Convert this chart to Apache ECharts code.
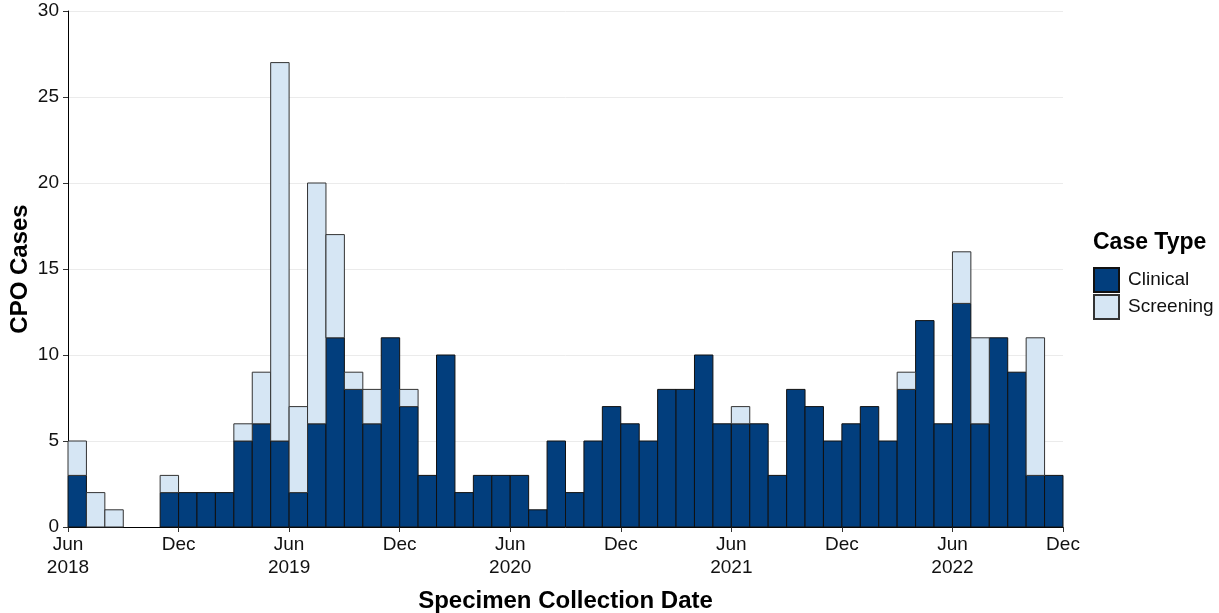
<!DOCTYPE html>
<html>
<head>
<meta charset="utf-8">
<script src="https://cdn.jsdelivr.net/npm/echarts@6/dist/echarts.min.js"></script>
<style>
  html, body { margin: 0; padding: 0; background: #fff; }
  #chart { width: 1219px; height: 613px; }
</style>
</head>
<body>
<div id="chart"></div>
<script>
// months Jun 2018 .. Nov 2022
const months = [
  "2018-06", "2018-07", "2018-08", "2018-09", "2018-10", "2018-11",
  "2018-12", "2019-01", "2019-02", "2019-03", "2019-04", "2019-05",
  "2019-06", "2019-07", "2019-08", "2019-09", "2019-10", "2019-11",
  "2019-12", "2020-01", "2020-02", "2020-03", "2020-04", "2020-05",
  "2020-06", "2020-07", "2020-08", "2020-09", "2020-10", "2020-11",
  "2020-12", "2021-01", "2021-02", "2021-03", "2021-04", "2021-05",
  "2021-06", "2021-07", "2021-08", "2021-09", "2021-10", "2021-11",
  "2021-12", "2022-01", "2022-02", "2022-03", "2022-04", "2022-05",
  "2022-06", "2022-07", "2022-08", "2022-09", "2022-10", "2022-11"
];

const clinical = [
  3, 0, 0, 0, 0, 2, 2, 2, 2, 5, 6, 5,
  2, 6, 11, 8, 6, 11, 7, 3, 10, 2, 3, 3,
  3, 1, 5, 2, 5, 7, 6, 5, 8, 8, 10, 6,
  6, 6, 3, 8, 7, 5, 6, 7, 5, 8, 12, 6,
  13, 6, 11, 9, 3, 3
];

const screening = [
  2, 2, 1, 0, 0, 1, 0, 0, 0, 1, 3, 22,
  5, 14, 6, 1, 2, 0, 1, 0, 0, 0, 0, 0,
  0, 0, 0, 0, 0, 0, 0, 0, 0, 0, 0, 0,
  1, 0, 0, 0, 0, 0, 0, 0, 0, 1, 0, 0,
  3, 5, 0, 0, 8, 0
];

// labels at every 6 months boundary
const tickLabels = [
  "Jun\n2018", "Dec", "Jun\n2019", "Dec", "Jun\n2020",
  "Dec", "Jun\n2021", "Dec", "Jun\n2022", "Dec"
];

const font = "Liberation Sans, Arial, sans-serif";
const chart = echarts.init(document.getElementById("chart"));

// stacked rows: [month index, bottom, top]
const clinicalRows = months.map((m, i) => [i, 0, clinical[i]]);
const screeningRows = months.map((m, i) => [i, clinical[i], clinical[i] + screening[i]]);

// full-width bars touching each other, like the ggplot histogram
function renderBar(params, api) {
  const lo = api.value(1);
  const hi = api.value(2);
  if (hi <= lo) return;
  const p0 = api.coord([api.value(0), lo]);
  const p1 = api.coord([api.value(0), hi]);
  const w = api.size([1, 0])[0];
  return {
    type: "rect",
    shape: { x: p0[0] - w / 2, y: p1[1], width: w, height: p0[1] - p1[1] },
    style: api.style()
  };
}

chart.setOption({
  animation: false,
  title: {
    text: "Case Type",
    left: 1088,
    top: 226,
    textStyle: { fontFamily: font, fontSize: 23, fontWeight: "bold", color: "#000" }
  },
  legend: {
    orient: "vertical",
    left: 1088,
    top: 262,
    itemWidth: 25,
    itemHeight: 24,
    itemGap: 1,
    icon: "rect",
    textStyle: { fontFamily: font, fontSize: 19, color: "#111", padding: [0, 0, 0, 4] },
    data: ["Clinical", "Screening"]
  },
  grid: { left: 68, right: 156, top: 11, bottom: 86, containLabel: false, outerBoundsMode: "none" },
  xAxis: [
    {
      type: "category",
      data: months,
      show: false
    },
    {
      type: "value",
      min: 0,
      max: 54,
      interval: 6,
      position: "bottom",
      axisLine: { show: true, lineStyle: { color: "#000", width: 1 } },
      axisTick: { show: true, length: 5, lineStyle: { color: "#333" } },
      splitLine: { show: false },
      axisLabel: {
        fontFamily: font,
        fontSize: 19,
        color: "#111",
        lineHeight: 23,
        margin: 6,
        formatter: (v) => tickLabels[Math.round(v / 6)]
      },
      name: "Specimen Collection Date",
      nameLocation: "middle",
      nameGap: 62,
      nameMoveOverlap: false,
      nameTextStyle: { fontFamily: font, fontSize: 24, fontWeight: "bold", color: "#000" }
    }
  ],
  yAxis: {
    type: "value",
    min: 0,
    max: 30,
    interval: 5,
    axisLine: { show: true, lineStyle: { color: "#000", width: 1 } },
    axisTick: { show: true, length: 5, lineStyle: { color: "#333" } },
    splitLine: { lineStyle: { color: "#ebebeb", width: 1 } },
    axisLabel: { fontFamily: font, fontSize: 19, color: "#111", margin: 9 },
    name: "CPO Cases",
    nameLocation: "middle",
    nameGap: 36,
    nameMoveOverlap: false,
    nameTextStyle: { fontFamily: font, fontSize: 24, fontWeight: "bold", color: "#000" }
  },
  series: [
    {
      name: "Clinical",
      type: "custom",
      xAxisIndex: 0,
      renderItem: renderBar,
      encode: { x: 0, y: [1, 2] },
      data: clinicalRows,
      itemStyle: { color: "#023e7d", borderColor: "#111", borderWidth: 1 }
    },
    {
      name: "Screening",
      type: "custom",
      xAxisIndex: 0,
      renderItem: renderBar,
      encode: { x: 0, y: [1, 2] },
      data: screeningRows,
      itemStyle: { color: "#d6e6f4", borderColor: "#333", borderWidth: 1 }
    }
  ]
});
</script>
</body>
</html>
